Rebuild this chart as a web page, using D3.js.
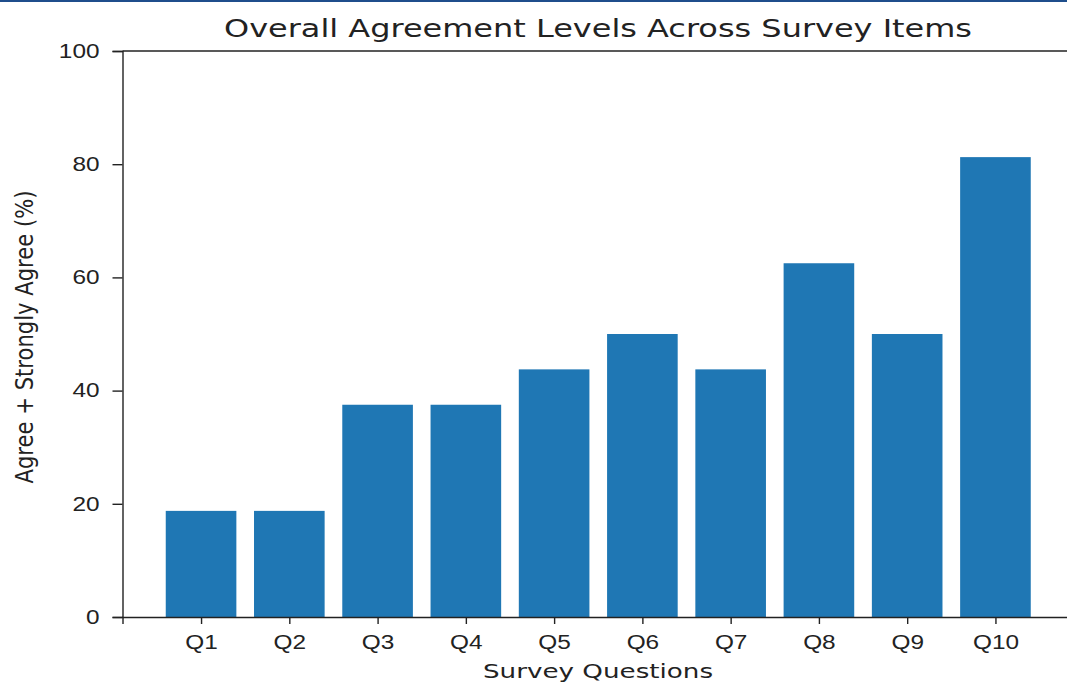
<!DOCTYPE html>
<html>
<head>
<meta charset="utf-8">
<script src="https://cdn.jsdelivr.net/npm/d3@7"></script>
<style>
  body { margin: 0; background: #fff; overflow: hidden; }
</style>
</head>
<body>
<div id="chart"></div>
<script>
const width = 1067;
const height = 682;
const sx = 1.25; // the picture is stretched sideways, so is its text

// survey data
const questions = ["Q1", "Q2", "Q3", "Q4", "Q5", "Q6", "Q7", "Q8", "Q9", "Q10"];
const agreePct = [18.75, 18.75, 37.5, 37.5, 43.75, 50, 43.75, 62.5, 50, 81.25];
const yTicks = [0, 20, 40, 60, 80, 100];

const svg = d3.select("#chart")
  .append("svg")
  .attr("width", width)
  .attr("height", height)
  .style("font-family", "'DejaVu Sans', sans-serif");

// top border strip
svg.append("rect")
  .attr("x", 0).attr("y", 0)
  .attr("width", width).attr("height", 2)
  .attr("fill", "#1f4e8c");

// bars at integer positions, width .8, 5% margins (right spine falls off the picture)
const x = d3.scaleLinear()
  .domain([-0.89, questions.length - 1 + 0.89])
  .range([122.5, 1074]);
const y = d3.scaleLinear()
  .domain([0, 100])
  .range([617, 51]);

const barW = x(0.8) - x(0);

svg.selectAll(".bar")
  .data(agreePct)
  .enter().append("rect")
  .attr("class", "bar")
  .attr("x", (d, i) => x(i) - barW / 2)
  .attr("y", d => y(d))
  .attr("width", barW)
  .attr("height", d => y(0) - y(d))
  .attr("fill", "#1f77b4");

const ink = "#222";

// y axis
const yAxis = svg.append("g")
  .attr("transform", `translate(${x.range()[0]},0)`)
  .call(d3.axisLeft(y).tickValues(yTicks).tickSize(10));
yAxis.select(".domain").attr("stroke", ink).attr("stroke-width", 1.4);
yAxis.selectAll(".tick line").attr("stroke", ink).attr("stroke-width", 1.4);
yAxis.selectAll(".tick text")
  .attr("x", 0)
  .attr("transform", `translate(-23,0) scale(${sx},1)`)
  .attr("font-size", 19.5)
  .attr("fill", ink);

// x axis
const xAxis = svg.append("g")
  .attr("transform", `translate(0,${y(0)})`)
  .call(d3.axisBottom(x)
    .tickValues(d3.range(questions.length))
    .tickFormat(i => questions[i])
    .tickSize(7).tickPadding(11));
xAxis.select(".domain").attr("stroke", ink).attr("stroke-width", 1.4);
xAxis.selectAll(".tick line").attr("stroke", ink).attr("stroke-width", 1.4);
xAxis.selectAll(".tick text")
  .attr("transform", `scale(${sx},1)`)
  .attr("font-size", 19.5)
  .attr("fill", ink);

// top spine
svg.append("line")
  .attr("x1", x.range()[0]).attr("x2", x.range()[1])
  .attr("y1", y(100)).attr("y2", y(100))
  .attr("stroke", ink).attr("stroke-width", 1.4);

// title
svg.append("text")
  .attr("transform", `translate(598,37) scale(${sx},1)`)
  .attr("text-anchor", "middle")
  .attr("font-size", 24.5)
  .attr("textLength", 748 / sx)
  .attr("lengthAdjust", "spacingAndGlyphs")
  .attr("fill", ink)
  .text("Overall Agreement Levels Across Survey Items");

// axis labels
svg.append("text")
  .attr("transform", `translate(598,678) scale(${sx},1)`)
  .attr("text-anchor", "middle")
  .attr("font-size", 20)
  .attr("textLength", 230 / sx)
  .attr("lengthAdjust", "spacingAndGlyphs")
  .attr("fill", ink)
  .text("Survey Questions");

svg.append("text")
  .attr("transform", `translate(33,337) scale(${sx},1) rotate(-90)`)
  .attr("text-anchor", "middle")
  .attr("font-size", 20.5)
  .attr("textLength", 293)
  .attr("lengthAdjust", "spacingAndGlyphs")
  .attr("fill", ink)
  .text("Agree + Strongly Agree (%)");
</script>
</body>
</html>
